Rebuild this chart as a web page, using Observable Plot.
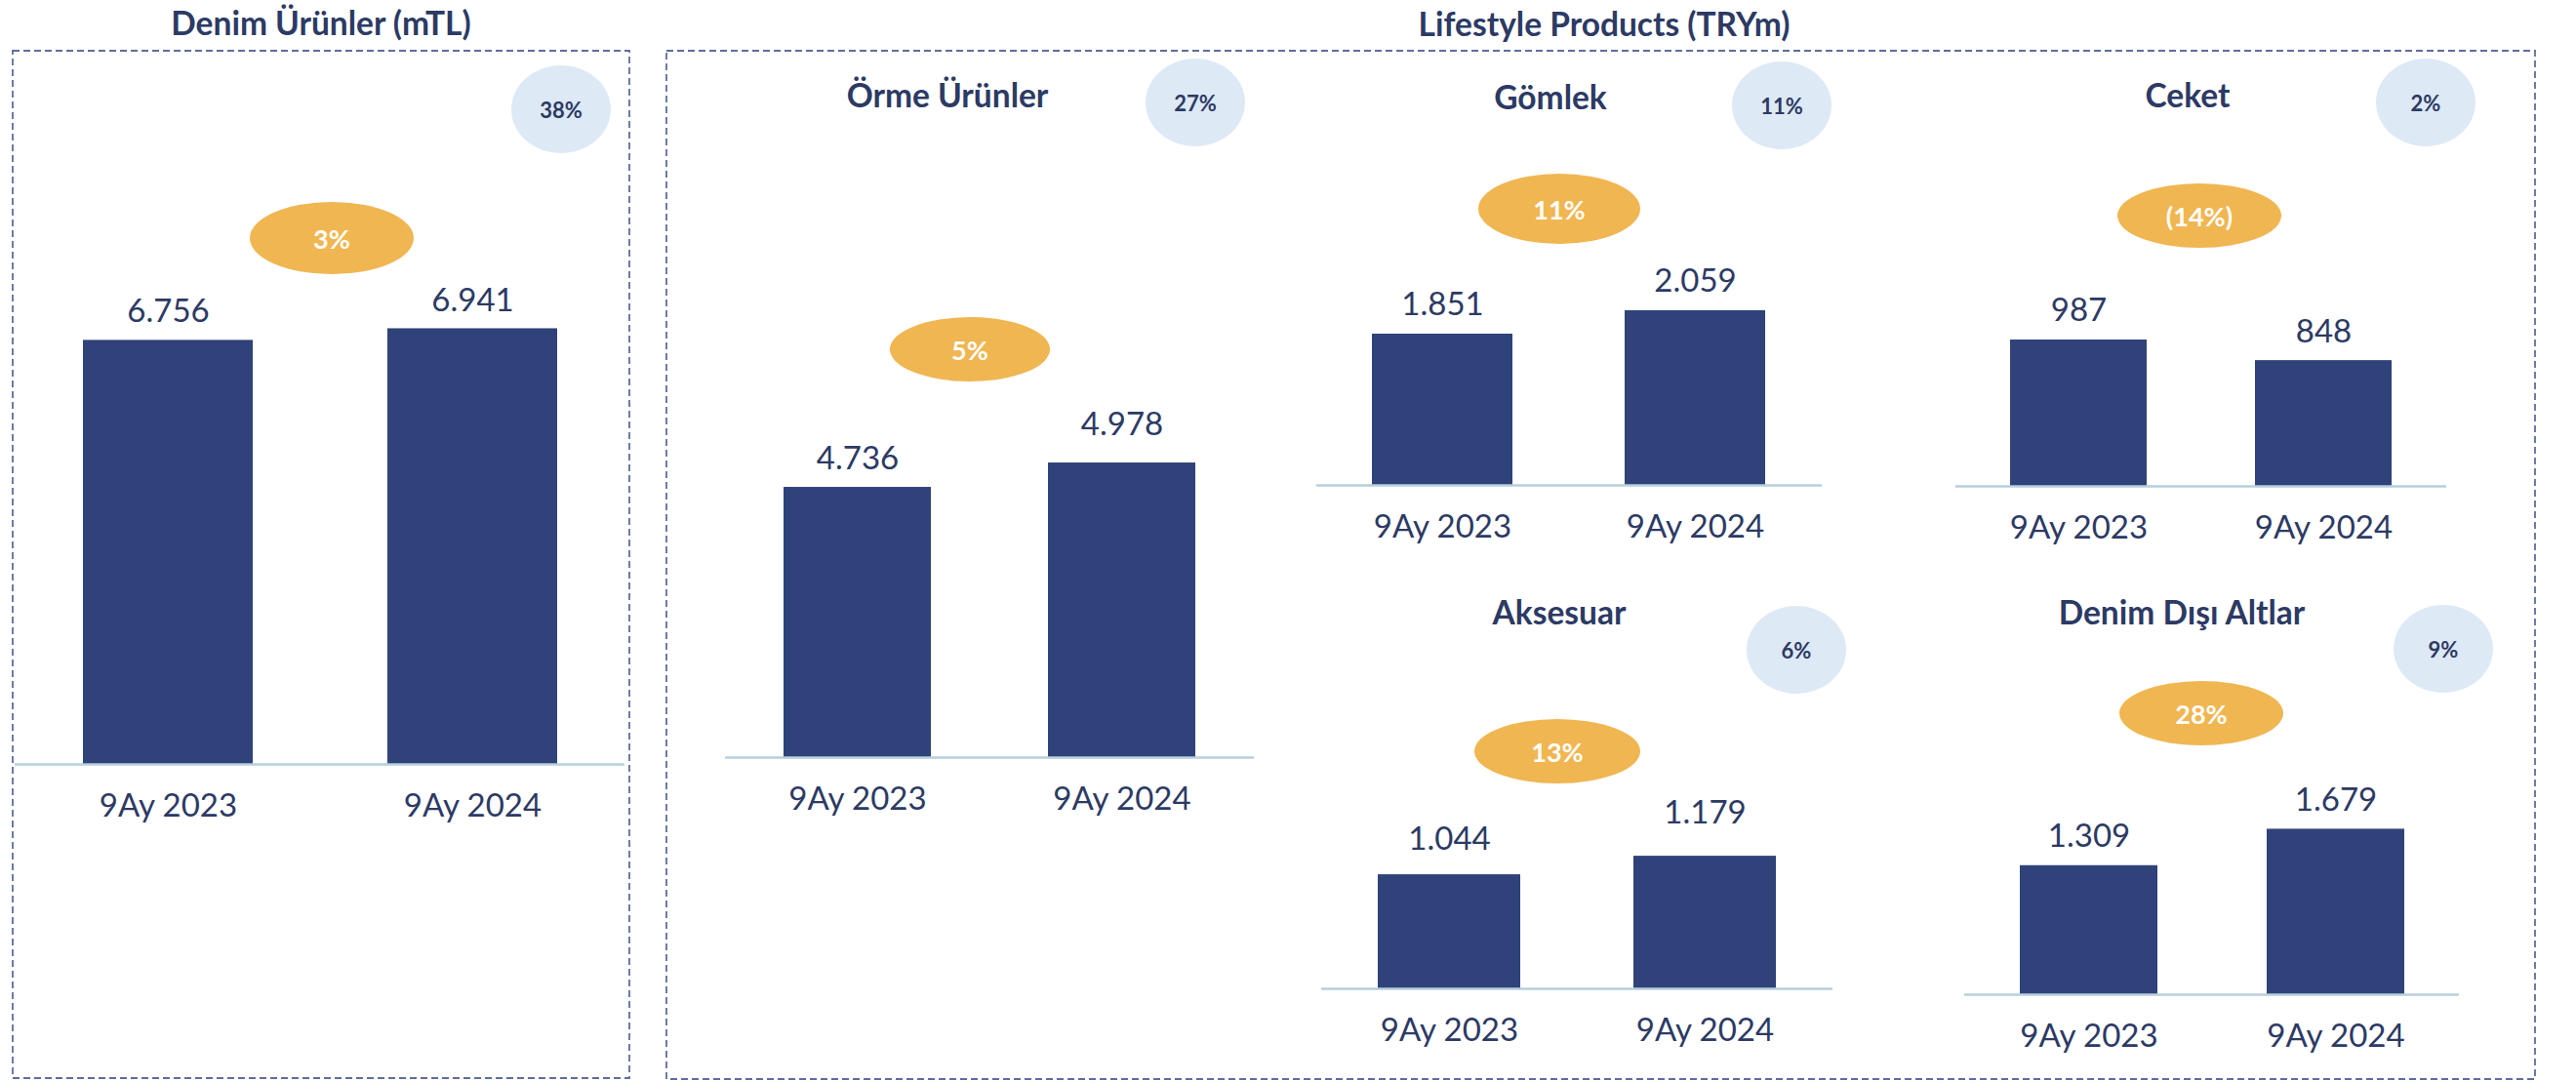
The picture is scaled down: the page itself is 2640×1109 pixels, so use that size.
<!DOCTYPE html>
<html>
<head>
<meta charset="utf-8">
<script src="https://cdn.jsdelivr.net/npm/d3@7"></script>
<script src="https://cdn.jsdelivr.net/npm/@observablehq/plot@0.6"></script>
<style>
  html, body { margin: 0; padding: 0; background: #ffffff; }
  #root { position: relative; width: 2640px; height: 1109px; overflow: hidden; background: #ffffff; font-family: Lato, "Open Sans", sans-serif; }
  .chart { position: absolute; }
  .chart svg { max-width: none; overflow: visible; }
  #overlay { position: absolute; left: 0; top: 0; }
</style>
</head>
<body>
<div id="root"></div>
<script>
// ---------------- DATA ----------------
const periods = ["9Ay 2023", "9Ay 2024"];
const groupTitles = ["Denim Ürünler (mTL)", "Lifestyle Products (TRYm)"];
const chartTitles = ["Denim Ürünler (mTL)", "Örme Ürünler", "Gömlek", "Ceket", "Aksesuar", "Denim Dışı Altlar"];
const values2023 = [6756, 4736, 1851, 987, 1044, 1309];
const values2024 = [6941, 4978, 2059, 848, 1179, 1679];
const growthLabels = ["3%", "5%", "11%", "(14%)", "13%", "28%"];
const shareLabels = ["38%", "27%", "11%", "2%", "6%", "9%"];

// ---------------- STYLE / LAYOUT ----------------
const navy = "#2C3A64";
const barColor = "#2F4279";
const axisColor = "#B7CFDD";
const orange = "#F0B652";
const lightBlue = "#DEE9F6";
const borderColor = "#5E6D9E";
const titleSize = 33.5;

const layout = [
  {x0: 15,   x1: 640,  axisY: 783,  frameH: 500, yDomain: [0, 7772],    labelDy: [-29, -29], title: null,        share: [575, 112],  growth: [340, 244, 84, 37]},
  {x0: 743,  x1: 1285, axisY: 776,  frameH: 400, yDomain: [2055, 5927], labelDy: [-29, -39], title: [971, 97],   share: [1225, 105], growth: [994, 358, 82, 33]},
  {x0: 1349, x1: 1867, axisY: 497,  frameH: 250, yDomain: [508, 2674],  labelDy: [-30, -30], title: [1589, 99],  share: [1826, 108], growth: [1598, 214, 83, 36]},
  {x0: 2004, x1: 2507, axisY: 498,  frameH: 250, yDomain: [0, 1645],    labelDy: [-30, -29], title: [2242, 97],  share: [2486, 105], growth: [2254, 221, 84, 33]},
  {x0: 1354, x1: 1878, axisY: 1013, frameH: 250, yDomain: [213, 1990],  labelDy: [-36, -44], title: [1598, 627], share: [1841, 666], growth: [1596, 770, 85, 33]},
  {x0: 2013, x1: 2520, axisY: 1019, frameH: 250, yDomain: [0, 2475],    labelDy: [-30, -29], title: [2236, 627], share: [2504, 665], growth: [2256, 731, 84, 33]}
];
const panels = [
  {x: 13, y: 52, w: 632, h: 1053, title: [329, 23]},
  {x: 683, y: 52, w: 1915, h: 1054, title: [1644, 24]}
];

const trFormat = d3.formatLocale({decimal: ",", thousands: ".", grouping: [3], currency: ["", ""]}).format(",d");

const root = document.getElementById("root");

// ---------------- CHARTS ----------------
layout.forEach((L, i) => {
  const data = periods.map((p, j) => ({period: p, value: [values2023, values2024][j][i]}));
  const mt = 70, mb = 80;
  const W = L.x1 - L.x0;
  const plot = Plot.plot({
    width: W,
    height: L.frameH + mt + mb,
    marginLeft: 0, marginRight: 0, marginTop: mt, marginBottom: mb,
    x: {domain: periods, paddingInner: 0.443, paddingOuter: 0.2215, label: null},
    y: {domain: L.yDomain, axis: null},
    style: {background: "transparent", color: navy, fontFamily: "Lato, 'Open Sans', sans-serif", fontSize: "33px", overflow: "visible"},
    marks: [
      Plot.barY(data, {x: "period", y1: L.yDomain[0], y2: "value", fill: barColor}),
      Plot.ruleY([L.yDomain[0]], {stroke: axisColor, strokeWidth: 2.5}),
      Plot.text(data, {filter: (d, j) => j === 0, x: "period", y: "value", text: d => trFormat(d.value), dy: L.labelDy[0], fontSize: 33, fill: navy}),
      Plot.text(data, {filter: (d, j) => j === 1, x: "period", y: "value", text: d => trFormat(d.value), dy: L.labelDy[1], fontSize: 33, fill: navy}),
      Plot.axisX({tickSize: 0, tickPadding: 30, fontSize: 33, label: null})
    ]
  });
  const div = document.createElement("div");
  div.className = "chart";
  div.style.left = L.x0 + "px";
  div.style.top = (L.axisY - L.frameH - mt) + "px";
  div.style.width = W + "px";
  div.appendChild(plot);
  root.appendChild(div);
});

// ---------------- OVERLAY: panels, titles, bubbles ----------------
const svg = d3.select(root).append("svg")
  .attr("id", "overlay")
  .attr("width", 2640).attr("height", 1109)
  .style("font-family", "Lato, 'Open Sans', sans-serif");

panels.forEach((P, k) => {
  svg.append("rect")
    .attr("x", P.x).attr("y", P.y).attr("width", P.w).attr("height", P.h)
    .attr("fill", "none").attr("stroke", borderColor).attr("stroke-width", 1.8)
    .attr("stroke-dasharray", "7 4");
  svg.append("text")
    .attr("x", P.title[0]).attr("y", P.title[1])
    .attr("text-anchor", "middle").attr("dominant-baseline", "central")
    .attr("font-size", titleSize).attr("font-weight", 700).attr("fill", navy)
    .text(groupTitles[k]);
});

layout.forEach((L, i) => {
  if (L.title) {
    svg.append("text")
      .attr("x", L.title[0]).attr("y", L.title[1])
      .attr("text-anchor", "middle").attr("dominant-baseline", "central")
      .attr("font-size", titleSize).attr("font-weight", 700).attr("fill", navy)
      .text(chartTitles[i]);
  }
  // share bubble
  svg.append("ellipse")
    .attr("cx", L.share[0]).attr("cy", L.share[1]).attr("rx", 51).attr("ry", 45)
    .attr("fill", lightBlue);
  svg.append("text")
    .attr("x", L.share[0]).attr("y", L.share[1])
    .attr("text-anchor", "middle").attr("dominant-baseline", "central")
    .attr("font-size", 22).attr("font-weight", 700).attr("fill", navy)
    .text(shareLabels[i]);
  // growth bubble
  svg.append("ellipse")
    .attr("cx", L.growth[0]).attr("cy", L.growth[1]).attr("rx", L.growth[2]).attr("ry", L.growth[3])
    .attr("fill", orange);
  svg.append("text")
    .attr("x", L.growth[0]).attr("y", L.growth[1])
    .attr("text-anchor", "middle").attr("dominant-baseline", "central")
    .attr("font-size", 27).attr("font-weight", 700).attr("fill", "#ffffff")
    .text(growthLabels[i]);
});
</script>
</body>
</html>
